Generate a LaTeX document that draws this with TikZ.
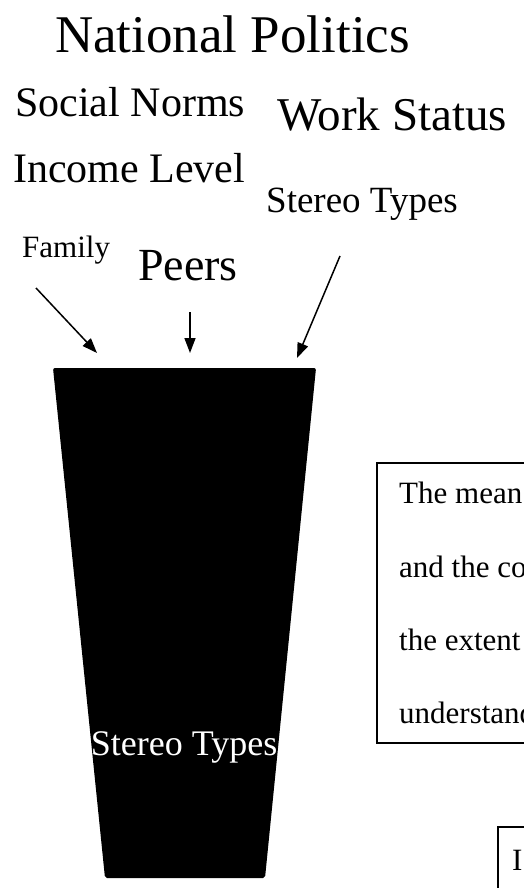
\documentclass[tikz,border=0pt]{standalone}
\usepackage{fontspec}
\setmainfont{Liberation Serif}
\usepackage{tikz}
\usetikzlibrary{arrows.meta,positioning}

\newcommand{\fsz}[1]{\fontsize{#1}{#1}\selectfont}

\begin{document}
\begin{tikzpicture}[x=1pt,y=-1pt,
	  word/.style={anchor=base west,inner sep=0pt},
	  pointer/.style={line width=1.5pt,-{Triangle[length=15pt,width=11pt]}},
	  textbox/.style={draw,line width=2pt}]
	  \useasboundingbox (0,0) rectangle (524,888);
	  \clip (0,0) rectangle (524,888);
	  % Draw the influences
	  \node (politics) [word,font=\fsz{53}] at (55,53) {National Politics};
	  \node (norms) [word,font=\fsz{42}] at (15,117) {Social Norms};
	  \node (work) [word,font=\fsz{47}] at (277,130) {Work Status};
	  \node (income) [word,font=\fsz{42}] at (13,182) {Income Level};
	  \node (stereo) [word,font=\fsz{37}] at (266,212) {Stereo Types};
	  \node (family) [word,font=\fsz{31}] at (22,257) {Family};
	  \node (peers) [word,font=\fsz{46}] at (138,280) {Peers};
	  % Draw the funnel
	  \fill[rounded corners=2pt] (53,368) coordinate (f_1) -- (316,368) coordinate (f_2)
	      -- (265,878) coordinate (f_3) -- (105,878) coordinate (f_4) -- cycle;
	  \node (inner) [anchor=base,inner sep=0pt,white,font=\fsz{36}] at (184,755) {Stereo Types};
	  % Draw the arrows into the funnel
	  \coordinate (a_1) at (36,288);
	  \coordinate (a_2) at (97,353);
	  \coordinate (b_1) at (190,312);
	  \coordinate (b_2) at (190,353);
	  \coordinate (c_1) at (340,256);
	  \coordinate (c_2) at (297,358);
	  \draw[pointer] (a_1) -- (a_2);
	  \draw[pointer] (b_1) -- (b_2);
	  \draw[pointer] (c_1) -- (c_2);
	  % Draw the text boxes
	  \draw[textbox] (377,463) rectangle (560,743);
	  \node (line1) [word,font=\fsz{31}] at (399,503) {The mean};
	  \node (line2) [word,font=\fsz{31}] at (399,577) {and the co};
	  \node (line3) [word,font=\fsz{31}] at (399,650) {the extent};
	  \node (line4) [word,font=\fsz{31}] at (399,723) {understand};
	  \draw[textbox] (498,827) rectangle (560,900);
	  \node (line5) [word,font=\fsz{31}] at (512,870) {I};
\end{tikzpicture}
\end{document}
